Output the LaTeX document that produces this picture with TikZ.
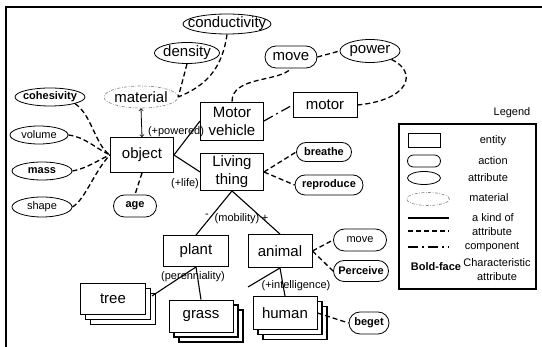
\documentclass[tikz,border=0pt]{standalone}
\usepackage{fontspec}
\setmainfont{Liberation Sans}
\usetikzlibrary{shapes.geometric,shapes.misc,shadows,calc}
\newcommand{\bigtxt}{\fontsize{15}{18}\selectfont}
\newcommand{\smalltxt}{\fontsize{11}{13}\selectfont}

\tikzset{
  entity/.style={draw, line width=0.9pt, fill=white, inner sep=0pt,
    minimum width=63pt, minimum height=32pt, font=\bigtxt, align=center},
  stackbox/.style={entity,
    general shadow={shadow xshift=10pt, shadow yshift=-10pt, fill=white, draw=black, line width=1.5pt},
    general shadow={shadow xshift=5pt, shadow yshift=-5pt, fill=white, draw=black, line width=1.5pt}},
  action/.style={draw, rounded rectangle, line width=0.8pt, fill=white, inner sep=0pt, font=\smalltxt\bfseries},
  attrib/.style={draw, ellipse, line width=0.8pt, fill=white, inner sep=-12pt, font=\smalltxt},
  matl/.style={draw=gray, ellipse, line width=0.6pt, dash pattern=on 3pt off 1.5pt on 0.8pt off 1.5pt,
    inner sep=-12pt, font=\bigtxt},
  attr/.style={line width=1.3pt, dash pattern=on 5pt off 3pt},
  comp/.style={line width=1.2pt, dash pattern=on 10pt off 4pt on 2pt off 4pt},
  akind/.style={line width=1.1pt},
  lbl/.style={font=\smalltxt, inner sep=1pt}
}

\begin{document}
\begin{tikzpicture}[x=1pt,y=-1pt]
\useasboundingbox (0,0) rectangle (542,347);
\draw[line width=2pt] (6,347) -- (6,7) -- (542,7);

% object and its attributes
\node[attrib, font=\bigtxt, minimum width=88pt, minimum height=20pt] (cond) at (227,24) {conductivity};
\node[attrib, font=\bigtxt, minimum width=65pt, minimum height=21pt] (dens) at (187,53) {density};
\node[matl, minimum width=74pt, minimum height=22pt] (mat) at (141,97) {material};
\node[attrib, font=\smalltxt\bfseries, minimum width=70pt, minimum height=18pt] (coh) at (50,97) {cohesivity};
\node[attrib, minimum width=58pt, minimum height=18pt] (vol) at (39,135) {volume};
\node[attrib, font=\smalltxt\bfseries, minimum width=60pt, minimum height=18pt] (mass) at (42,171) {mass};
\node[attrib, minimum width=60pt, minimum height=20pt] (shp) at (42,207) {shape};
\node[action, minimum width=43pt, minimum height=22pt] (age) at (135,206) {age};
\node[entity, minimum height=35pt] (obj) at (142,155) {object};

% motor vehicle
\node[entity, minimum height=38pt] (mv) at (232,121) {Motor\\vehicle};
\node[entity, minimum width=64pt, minimum height=25pt] (motor) at (325,105) {motor};
\node[action, font=\bigtxt, minimum width=52pt, minimum height=22pt] (mvmove) at (291,57) {move};
\node[attrib, font=\bigtxt, minimum width=60pt, minimum height=23pt] (pow) at (370,51) {power};

% living things
\node[entity, minimum height=37pt] (lt) at (232,172) {Living\\thing};
\node[action, minimum width=55pt, minimum height=19pt] (brea) at (324,152) {breathe};
\node[action, minimum width=68pt, minimum height=20pt] (repr) at (329,185) {reproduce};
\node[entity, minimum width=65pt, minimum height=31pt] (plant) at (196,251) {plant};
\node[entity, minimum width=64pt, minimum height=33pt] (animal) at (280,251) {animal};
\node[stackbox, minimum width=65pt, minimum height=31pt] (tree) at (113,299) {tree};
\node[stackbox, minimum width=64pt] (grass) at (201,316) {grass};
\node[stackbox, minimum width=64pt, minimum height=33pt] (human) at (285,313) {human};
\node[action, font=\smalltxt, minimum width=53pt, minimum height=22pt] (anmove) at (360,240) {move};
\node[action, minimum width=55pt, minimum height=21pt] (perc) at (361,271) {Perceive};
\node[action, minimum width=40pt, minimum height=22pt] (beget) at (369,323) {beget};
\coordinate (cut) at (248,287);

% connectors
\draw[attr] (cond.south) .. controls (222,70) and (205,86) .. (mat.east);
\draw[attr] (dens.south) -- (mat.east);
\draw[thick,<->] (mat.south) -- (obj.north);
\draw[attr] (coh.south east) .. controls (92,115) and (95,145) .. (obj.west);
\draw[attr] (vol.east) .. controls (85,137) and (95,148) .. (obj.west);
\draw[attr] (mass.east) .. controls (88,168) and (98,160) .. (obj.west);
\draw[attr] (shp.east) .. controls (85,200) and (95,170) .. (obj.west);
\draw[attr] (obj.south) -- (age.north);
\draw[akind] (obj.east) -- (mv.west);
\draw[akind] (obj.east) -- (lt.west);
\draw[attr] (mv.north) .. controls (232,76) and (280,82) .. (mvmove.south);
\draw[attr] (mvmove.east) -- (pow.west);
\draw[attr] (pow.south east) .. controls (418,72) and (410,100) .. (motor.east);
\draw[comp] (mv.east) -- (motor.west);
\draw[attr] (lt.east) -- (brea.west);
\draw[attr] (lt.east) -- (repr.west);
\draw[akind] (lt.south) -- (plant.north);
\draw[akind] (lt.south) -- (animal.north);
\draw[akind] (plant.south) -- ($(tree.east)+(6,-3)$);
\draw[akind] (plant.south) -- (grass.north);
\draw[akind] (animal.south) -- (human.north);
\draw[akind] (animal.south) -- (cut);
\draw[attr] (animal.east) -- (anmove.west);
\draw[attr] (animal.east) -- (perc.west);
\draw[attr] (human.east) -- (beget.west);

% labels
\node[lbl] (lpow) at (176,132) {(+powered)};
\node[lbl] (llife) at (185,184) {(+life)};
\node[lbl] (lminus) at (207,216) {-};
\node[lbl] (lmob) at (237,219) {(mobility)};
\node[lbl] (lplus) at (265,218) {+};
\node[lbl] (lper) at (193,277) {(perenniality)};
\node[lbl] (lint) at (296,286) {(+intelligence)};

% legend
\node[lbl] (legt) at (512,113) {Legend};
\node[draw, line width=1.6pt, inner sep=0pt, minimum width=137pt, minimum height=165pt] (legbox) at (467.5,206.5) {};
\node[draw, line width=0.9pt, inner sep=0pt, minimum width=32pt, minimum height=14pt] (lgent) at (424,140) {};
\node[lbl] (lgentt) at (493,141) {entity};
\node[action, minimum width=33pt, minimum height=12pt] (lgact) at (424,161) {};
\node[lbl] (lgactt) at (493,161) {action};
\node[attrib, minimum width=33pt, minimum height=13pt] (lgatt) at (424,178) {};
\node[lbl] (lgattt) at (488,178) {attribute};
\node[matl, minimum width=43pt, minimum height=13pt] (lgmat) at (428,199) {};
\node[lbl] (lgmatt) at (489,198) {material};
\draw[akind] (408,218) -- (449,218);
\node[lbl] (lgkind) at (493,218) {a kind of};
\draw[attr] (408,231) -- (449,231);
\node[lbl] (lgattr) at (492,232) {attribute};
\draw[comp] (408,247) -- (449,247);
\node[lbl] (lgcomp) at (492,247) {component};
\node[lbl, font=\smalltxt\bfseries] (lgbold) at (436,267) {Bold-face};
\node[lbl] (lgchar) at (497,263) {Characteristic};
\node[lbl] (lgchat) at (497,277) {attribute};
\end{tikzpicture}
\end{document}
